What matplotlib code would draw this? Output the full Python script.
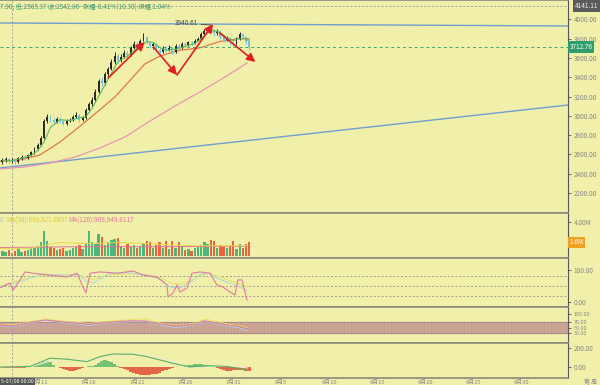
import numpy as np
import pandas as pd
import matplotlib
matplotlib.use('Agg')
import matplotlib.pyplot as plt
from matplotlib.transforms import blended_transform_factory

plt.rcParams['font.family'] = ['Noto Sans CJK SC', 'DejaVu Sans']

# ---------------- data ----------------
base = pd.Timestamp('2025-07-08 00:00')          # crosshair time
times = pd.date_range('2025-07-07 00:00', periods=78, freq='8h')
first_open = 2520
close = [2540, 2555, 2530, 2545, 2520, 2560, 2575, 2560, 2590, 2620,
         2660, 2700, 2770, 2950, 2990, 2960, 2940, 2970, 2950, 2920,
         2945, 2960, 2990, 3010, 2960, 2980, 3060, 3120, 3160, 3250,
         3360, 3340, 3430, 3480, 3560, 3620, 3580, 3610, 3650, 3630,
         3700, 3740, 3720, 3780, 3820, 3760, 3720, 3740, 3680, 3660,
         3700, 3680, 3700, 3660, 3720, 3700, 3740, 3730, 3760, 3750,
         3780, 3800, 3850, 3880, 3910, 3890, 3860, 3880, 3820, 3790,
         3810, 3760, 3740, 3800, 3850, 3820, 3760, 3712.76]
high = [2560, 2575, 2565, 2560, 2555, 2575, 2595, 2590, 2605, 2640,
        2680, 2720, 2790, 2970, 3020, 3005, 2980, 2990, 2985, 2960,
        2965, 2980, 3010, 3040, 3020, 3000, 3080, 3140, 3190, 3280,
        3380, 3400, 3450, 3510, 3590, 3660, 3640, 3640, 3680, 3670,
        3720, 3770, 3760, 3800, 3860, 3830, 3770, 3760, 3750, 3700,
        3720, 3720, 3730, 3710, 3740, 3740, 3760, 3760, 3780, 3780,
        3800, 3820, 3870, 3900, 3925, 3940.61, 3900, 3900, 3890, 3830,
        3830, 3820, 3780, 3820, 3870, 3860, 3830, 3770]
low = [2505, 2525, 2510, 2515, 2500, 2510, 2545, 2540, 2550, 2580,
       2605, 2645, 2690, 2760, 2930, 2940, 2915, 2925, 2930, 2900,
       2905, 2935, 2950, 2980, 2940, 2945, 2970, 3050, 3100, 3150,
       3240, 3310, 3320, 3410, 3470, 3540, 3550, 3560, 3600, 3600,
       3620, 3690, 3700, 3710, 3770, 3740, 3700, 3690, 3660, 3630,
       3650, 3660, 3670, 3640, 3650, 3680, 3690, 3710, 3720, 3730,
       3740, 3770, 3790, 3840, 3870, 3870, 3830, 3840, 3800, 3760,
       3770, 3730, 3710, 3730, 3790, 3800, 3740, 3680]
volume_m = [0.6, 0.5, 0.7, 0.4, 0.6, 0.8, 0.5, 0.6, 0.7, 0.9,
            1.0, 1.2, 1.6, 3.0, 1.8, 1.1, 0.9, 0.7, 0.8, 1.0,
            0.6, 0.7, 0.9, 1.1, 1.3, 0.8, 1.5, 3.0, 1.7, 1.4,
            2.6, 2.2, 1.3, 1.6, 1.9, 2.0, 2.1, 1.2, 1.0, 1.4,
            1.1, 1.3, 0.9, 1.2, 1.5, 1.8, 1.6, 1.0, 1.3, 1.7,
            1.0, 1.8, 0.8, 1.8, 0.9, 1.7, 1.2, 0.7, 0.8, 0.6,
            0.9, 1.1, 1.3, 1.6, 1.4, 1.9, 1.8, 1.0, 1.3, 1.1,
            0.9, 1.2, 1.8, 0.8, 1.4, 1.0, 1.4, 1.6]
macd_hist = [-10, -12, -15, -14, -12, -10, -8, -6, -4,
             5, 15, 30, 45, 55, 62, 50, 25,
             -5, -15, -25, -35, -40, -38, -30, -20, -8,
             5, 10, 15, 25,
             45, 60, 70, 65, 50, 35, 15,
             -8, -20, -35, -50, -65, -75, -82, -85, -85, -82, -78, -72, -60, -45, -30, -18, -8,
             -5, 0, 5, 10,
             18, 25, 30, 30, 28, 22, 15, 8,
             -5, -15, -25, -32, -38, -40, -35, -30, -28, -35, -42, -45]

# moving averages (day offset from 2025-07-08, price)
ma_short_day = [-1, 0, 1, 2, 2.67, 3.33, 4, 5, 6, 7, 7.67, 8.33, 9, 10, 11, 12, 13, 14,
                14.67, 15.33, 16, 17, 18, 19, 19.67, 20.33, 21, 21.67, 22.33, 23, 23.67, 24.33, 24.67]
ma_short = [2540, 2535, 2560, 2590, 2640, 2730, 2880, 2960, 2950, 2980, 2990, 3080, 3200, 3380,
            3560, 3620, 3700, 3770, 3760, 3710, 3680, 3690, 3720, 3750, 3800, 3860, 3885, 3860,
            3810, 3780, 3800, 3800, 3770]
ma_mid_day = [-1.25, 0.8, 2.9, 5.0, 7.1, 9.1, 10.7, 12.3, 13.8, 15.4, 17.5, 19.5, 21.6, 23.7, 24.67]
ma_mid = [2530, 2543, 2594, 2729, 2895, 3060, 3195, 3371, 3537, 3620, 3680, 3703, 3770, 3800, 3795]
ma_long_day = [-1.25, 1.35, 3.95, 6.55, 9.15, 11.75, 14.35, 16.94, 19.54, 22.14, 24.43]
ma_long = [2449, 2470, 2511, 2573, 2667, 2781, 2946, 3102, 3247, 3402, 3547]

# trend lines (day, price)
top_line_day = [-1.25, 57.8]
top_line = [3962, 3931]
up_line_day = [-1.25, 57.8]
up_line = [2459, 3112]

# red arrows
arrow_from_day = [10.0, 14.7, 17.15, 21.6]
arrow_from = [3392, 3713, 3423, 3858]
arrow_to_day = [13.8, 17.15, 20.9, 25.3]
arrow_to = [3765, 3423, 3951, 3558]

# volume MAs
vol_ma30_day = [-1.25, 2, 3.5, 5, 7, 9, 11, 13, 15, 17, 19, 21, 23, 24.5]
vol_ma30 = [0.9, 0.9, 1.3, 1.6, 1.5, 1.5, 1.6, 1.5, 1.4, 1.3, 1.2, 1.2, 1.2, 1.2]
vol_ma120_day = [-1.25, 3, 7, 11, 15, 19, 23, 24.5]
vol_ma120 = [1.0, 1.05, 1.1, 1.1, 1.1, 1.12, 1.15, 1.15]

# RSI panel
rsi_fast_day = [-1.25, -0.21, 0.10, 0.83, 1.35, 2.18, 3.95, 5.72, 6.76, 7.38, 7.69, 8.11, 9.15,
                10.92, 12.58, 13.62, 15.07, 16.11, 16.22, 16.74, 17.15, 17.46, 18.19, 18.71,
                19.54, 20.58, 21.31, 21.93, 22.66, 23.18, 23.49, 23.91, 24.22, 24.43]
rsi_fast = [44, 59, 37, 69, 94, 90, 84, 78, 90, 47, 28, 90, 94, 90, 97, 84, 78, 53, 16, 28, 53,
            31, 44, 90, 94, 90, 53, 47, 31, 22, 69, 69, 31, 6]
rsi_slow_day = [-1.25, 1, 3, 5, 7, 7.7, 8.5, 10, 12, 14, 15.5, 16.5, 17.5, 18.5, 19.5, 20.5,
                21.5, 22.5, 23.5, 24.43]
rsi_slow = [50, 70, 82, 85, 86, 75, 70, 84, 88, 86, 75, 60, 55, 65, 82, 90, 80, 68, 58, 48]
rsi_mid = [48, 65, 86, 84, 84, 65, 60, 88, 92, 84, 70, 45, 45, 60, 86, 90, 72, 60, 50, 35]

# band oscillator panel
osc_day = [-1.25, 0, 1, 2, 3.5, 5, 7, 8, 9.5, 11, 12.5, 14, 15, 16, 17, 18, 19, 20, 20.5,
           21.5, 22.5, 23.5, 24.43]
osc_pink = [60, 55, 62, 70, 78, 72, 65, 62, 68, 72, 75, 74, 65, 60, 55, 58, 62, 75, 72, 65, 58, 55, 45]
osc_yellow = [62, 60, 65, 72, 82, 74, 68, 64, 72, 75, 80, 82, 70, 62, 58, 60, 66, 80, 78, 70, 62, 58, 50]
osc_blue = [58, 52, 60, 68, 76, 70, 62, 58, 66, 70, 72, 72, 62, 56, 50, 55, 60, 72, 70, 62, 55, 50, 40]

# MACD lines
macd_day = [-1.25, 1.87, 3.95, 5.72, 7.8, 9.15, 10.5, 12.58, 14.03, 16.74, 18.5, 20.27, 22.35, 24.5]
macd_dif = [0, 6, 93, 82, 56, 109, 137, 134, 109, 39, 0, 14, 6, -31]
macd_dea = [2, 4, 60, 85, 72, 85, 120, 138, 125, 60, -5, 0, 12, -10]

tick_dates = pd.date_range('2025-07-11', '2025-08-30', freq='5D')

# ---------------- plot ----------------
bg = '#f0f0aa'
W, H = 600, 385
fig = plt.figure(figsize=(6, 3.85), dpi=100, facecolor=bg)

def panel(top, bottom, lsize=4.6):
    ax = fig.add_axes([0, 1 - bottom / H, 568 / W, (bottom - top) / H], facecolor=bg)
    ax.set_xlim(-1.25, 57.8)
    ax.yaxis.tick_right()
    ax.tick_params(axis='y', direction='out', length=2, width=0.6, colors='#555',
                   labelcolor='#888', labelsize=lsize, pad=2)
    ax.tick_params(axis='x', bottom=False, labelbottom=False)
    ax.spines['left'].set_visible(False)
    ax.spines['right'].set_color('#555')
    ax.spines['right'].set_linewidth(0.8)
    for s in ('top', 'bottom'):
        ax.spines[s].set_color('#8a8a7a')
        ax.spines[s].set_linewidth(1.2)
    ax.axvline(0, color='#a0a0a0', lw=0.7, dashes=(2, 2))
    return ax

t = ((times - base) / pd.Timedelta('1D')).to_numpy()
c = np.array(close)
o = np.array([first_open] + close[:-1])
up = c >= o

# main price panel
ax = panel(0, 213)
ax.set_ylim(1993, 4200)
ax.set_yticks(np.arange(2200, 4001, 200))
ax.yaxis.set_major_formatter(lambda v, p: f'{v:.2f}')
ax.plot(top_line_day, top_line, color='#6f9fcf', lw=1.0)
ax.plot(up_line_day, up_line, color='#6f9fcf', lw=1.0)
ax.plot(ma_long_day, ma_long, color='#e896b4', lw=0.9)
ax.plot(ma_mid_day, ma_mid, color='#e07848', lw=0.9)
ax.vlines(t, low, high, colors=np.where(up, '#2a2a2a', '#70c4e0'), lw=0.7, zorder=3)
ax.bar(t, np.maximum(np.abs(c - o), 4), bottom=np.minimum(o, c), width=0.2,
       color=np.where(up, '#2a2a2a', '#70c4e0'), zorder=3)
ax.plot(ma_short_day, ma_short, color='#5cb85c', lw=0.8, zorder=4)
ax.axhline(close[-1], color='#3aa876', lw=0.7, dashes=(3, 3))
ax.axhline(4141.11, color='#a0a0a0', lw=0.7, dashes=(2, 2))
for x0, y0, x1, y1 in zip(arrow_from_day, arrow_from, arrow_to_day, arrow_to):
    ax.annotate('', xy=(x1, y1), xytext=(x0, y0), zorder=5,
                arrowprops=dict(arrowstyle='-|>,head_length=0.5,head_width=0.25',
                                color='#e02020', lw=1.2, shrinkA=0, shrinkB=0))
ipk = int(np.argmax(high))
ax.annotate(f'{high[ipk]:.2f}', xy=(t[ipk], high[ipk]), xytext=(t[ipk] - 1.3, 3958),
            ha='right', va='center', fontsize=4.6, color='#444',
            arrowprops=dict(arrowstyle='-', color='#444', lw=0.6, shrinkA=0, shrinkB=0))
tr = blended_transform_factory(ax.transAxes, ax.transData)
ax.text(1.003, close[-1], f'{close[-1]:.2f}', transform=tr, ha='left', va='center',
        fontsize=4.6, color='white', bbox=dict(fc='#2e9e6e', ec='none', pad=1.2))
ax.text(0.0, 0.985, '7.90, 低:2505.37 收:2542.86- 涨幅-0.41%(10.30) 振幅 2.04%',
        transform=ax.transAxes, ha='left', va='top', fontsize=4.6, color='#3d9a70')

# volume panel
av = panel(213, 258)
av.set_ylim(-0.24, 5.09)
av.set_yticks([4])
av.yaxis.set_major_formatter(lambda v, p: f'{v:.2f}M')
av.bar(t, volume_m, width=0.24, color=np.where(up, '#4cb67c', '#e8643e'))
av.plot(vol_ma120_day, vol_ma120, color='#e870a0', lw=0.7)
av.plot(vol_ma30_day, vol_ma30, color='#e6d84a', lw=0.7)
trv = blended_transform_factory(av.transAxes, av.transData)
av.text(1.003, volume_m[-1], f'{volume_m[-1]:.1f}M', transform=trv, ha='left', va='center',
        fontsize=4.6, color='white', bbox=dict(fc='#f0a020', ec='none', pad=1.2))
av.text(0.0, 0.93, '0', transform=av.transAxes, ha='left', va='top', fontsize=4.6, color='#bbb')
av.text(0.011, 0.93, 'MA(30):699,921.8957', transform=av.transAxes, ha='left', va='top',
        fontsize=4.6, color='#d8c838')
av.text(0.12, 0.93, 'MA(120):909,949.8117', transform=av.transAxes, ha='left', va='top',
        fontsize=4.6, color='#e870a0')

# RSI panel
ar = panel(258, 307)
ar.set_ylim(-15.6, 137.5)
ar.set_yticks([0, 100])
ar.yaxis.set_major_formatter(lambda v, p: f'{v:.2f}')
for lvl in (20, 50, 80):
    ar.axhline(lvl, color='#999', lw=0.7, dashes=(2, 2))
ar.plot(rsi_slow_day, rsi_slow, color='#e8e060', lw=0.7)
ar.plot(rsi_slow_day, rsi_mid, color='#a8d8e8', lw=0.7)
ar.plot(rsi_fast_day, rsi_fast, color='#e07aa0', lw=0.8)

# band oscillator panel
ak = panel(307, 343, lsize=3.9)
ak.set_ylim(-7, 125.8)
ak.set_yticks([30, 50, 70, 100])
ak.yaxis.set_major_formatter(lambda v, p: f'{v:.2f}')
ak.axhspan(30, 70, color='#caa296', zorder=0)
for lvl in (30, 70):
    ak.axhline(lvl, color='#777', lw=0.6, dashes=(2, 2))
ak.plot(osc_day, osc_blue, color='#a8d8e8', lw=0.7)
ak.plot(osc_day, osc_yellow, color='#e8e060', lw=0.7)
ak.plot(osc_day, osc_pink, color='#e07aa0', lw=0.8)

# MACD panel
am = panel(343, 378)
am.set_ylim(-115.8, 252.6)
am.set_yticks([0, 200])
am.yaxis.set_major_formatter(lambda v, p: f'{v:.2f}')
hist = np.array(macd_hist)
am.bar(t, hist, width=1 / 3, color=np.where(hist >= 0, '#74c274', '#e4664a'))
am.plot(macd_day, macd_dea, color='#ececd8', lw=0.8)
am.plot(macd_day, macd_dif, color='#5cb05c', lw=0.8)
tick_days = ((tick_dates - base) / pd.Timedelta('1D')).to_numpy()
am.set_xticks(tick_days)
am.set_xticklabels([f'{d.month}月{d.day}' for d in tick_dates])
am.tick_params(axis='x', bottom=True, labelbottom=True, length=0, labelsize=4.2,
               labelcolor='#888', pad=1.5)

# right-side and corner labels
fig.text(598 / W, 1 - 6 / H, '4141.11', ha='right', va='center', fontsize=4.6, color='#eee',
         bbox=dict(fc='#5b5b5b', ec='none', pad=1.2))
fig.text(563 / W, 1 - 6 / H, '+', ha='center', va='center', fontsize=5, color='#ddd')
fig.text(590 / W, 1 - 382 / H, '第 周', ha='center', va='center', fontsize=4.2, color='#888')
fig.text(1.0 / W, 1 - 381.5 / H, '5-07/08 00:00', ha='left', va='center', fontsize=3.8,
         color='white', bbox=dict(fc='#555', ec='none', pad=0.8))

fig.savefig('out.png', dpi=100, facecolor=bg)
